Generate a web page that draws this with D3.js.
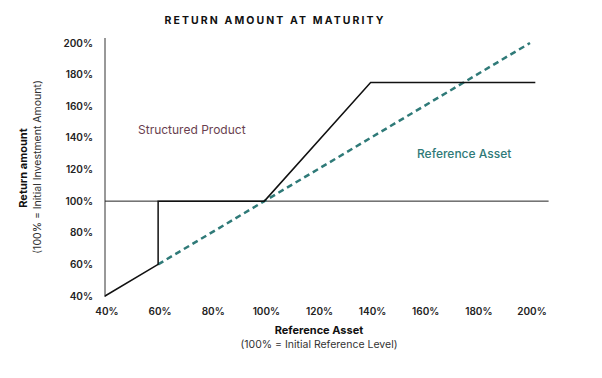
<!DOCTYPE html>
<html>
<head>
<meta charset="utf-8">
<script src="https://cdn.jsdelivr.net/npm/d3@7"></script>
<style>
    body { margin: 0; background: #fff; }
    svg { font-family: Inter, "Noto Sans", sans-serif; }
</style>
</head>
<body>
<div class="content"></div>
<script>
// data (percent of initial level)
var xTicks = [40, 60, 80, 100, 120, 140, 160, 180, 200];
var yTicks = [40, 60, 80, 100, 120, 140, 160, 180, 200];
var productX = [40, 60, 60, 100, 140, 202];
var productY = [40, 60, 100, 100, 175, 175];
var assetX = [60, 100, 200];
var assetY = [60, 100, 200];
var baseX = [40, 207];
var baseY = [100, 100];

var chart = {
    width: 602,
    height: 378,
    productColor: '#111',
    assetColor: '#2f7a78'
};

chart.svg = d3.select('.content').append('svg')
    .attr('width', chart.width)
    .attr('height', chart.height);

chart.x = d3.scaleLinear().domain([40, 200]).range([105, 530]);
chart.y = d3.scaleLinear().domain([40, 200]).range([296, 43]);

function pts(xs, ys) {
    return xs.map(function(v, i) { return {x: v, y: ys[i]}; });
}

chart.line = d3.line()
    .x(function(d) { return chart.x(d.x); })
    .y(function(d) { return chart.y(d.y); });

// title
chart.svg.append('text')
    .attr('x', 275).attr('y', 24)
    .attr('text-anchor', 'middle')
    .style('font-size', '10.5px')
    .style('font-weight', 700)
    .style('letter-spacing', '2.1px')
    .style('fill', '#111')
    .text('RETURN AMOUNT AT MATURITY');

// y axis: line only plus labels
chart.svg.append('line')
    .attr('x1', 105).attr('x2', 105)
    .attr('y1', 38).attr('y2', 297)
    .style('stroke', '#333').style('stroke-width', 1);

chart.svg.append('g').selectAll('text')
    .data(yTicks).enter().append('text')
    .attr('x', 93)
    .attr('y', function(d) { return chart.y(d); })
    .attr('dy', '0.35em')
    .attr('text-anchor', 'end')
    .style('font-size', '10px')
    .style('font-weight', 600)
    .style('fill', '#222')
    .text(function(d) { return d + '%'; });

chart.svg.append('g').selectAll('text')
    .data(xTicks).enter().append('text')
    .attr('x', function(d) { return chart.x(d) + 2; })
    .attr('y', 315)
    .attr('text-anchor', 'middle')
    .style('font-size', '10px')
    .style('font-weight', 600)
    .style('fill', '#222')
    .text(function(d) { return d + '%'; });

// axis titles
chart.svg.append('text')
    .attr('transform', 'translate(27,168) rotate(-90)')
    .attr('text-anchor', 'middle')
    .style('font-size', '11px')
    .style('font-weight', 700)
    .style('fill', '#111')
    .text('Return amount');
chart.svg.append('text')
    .attr('transform', 'translate(41,167) rotate(-90)')
    .attr('text-anchor', 'middle')
    .style('font-size', '10.5px')
    .style('fill', '#333')
    .text('(100% = Initial Investment Amount)');

chart.svg.append('text')
    .attr('x', 319).attr('y', 334)
    .attr('text-anchor', 'middle')
    .style('font-size', '11px')
    .style('font-weight', 700)
    .style('fill', '#111')
    .text('Reference Asset');
chart.svg.append('text')
    .attr('x', 319).attr('y', 348)
    .attr('text-anchor', 'middle')
    .style('font-size', '10.5px')
    .style('fill', '#333')
    .text('(100% = Initial Reference Level)');

// 100% reference line
chart.svg.append('path')
    .attr('d', chart.line(pts(baseX, baseY)))
    .style('fill', 'none')
    .style('stroke', '#222')
    .style('stroke-width', 1);

// reference asset (dashed)
chart.svg.append('path')
    .attr('d', chart.line(pts(assetX, assetY)))
    .style('fill', 'none')
    .style('stroke', chart.assetColor)
    .style('stroke-width', 2.5)
    .style('stroke-dasharray', '6,4');

// structured product
chart.svg.append('path')
    .attr('d', chart.line(pts(productX, productY)))
    .style('fill', 'none')
    .style('stroke', chart.productColor)
    .style('stroke-width', 1.5);

// labels
chart.svg.append('text')
    .attr('x', 138).attr('y', 134)
    .style('font-size', '12px')
    .style('fill', '#6a3f4f')
    .text('Structured Product');
chart.svg.append('text')
    .attr('x', 417).attr('y', 158)
    .style('font-size', '12px')
    .style('font-weight', 500)
    .style('fill', chart.assetColor)
    .text('Reference Asset');
</script>
</body>
</html>
